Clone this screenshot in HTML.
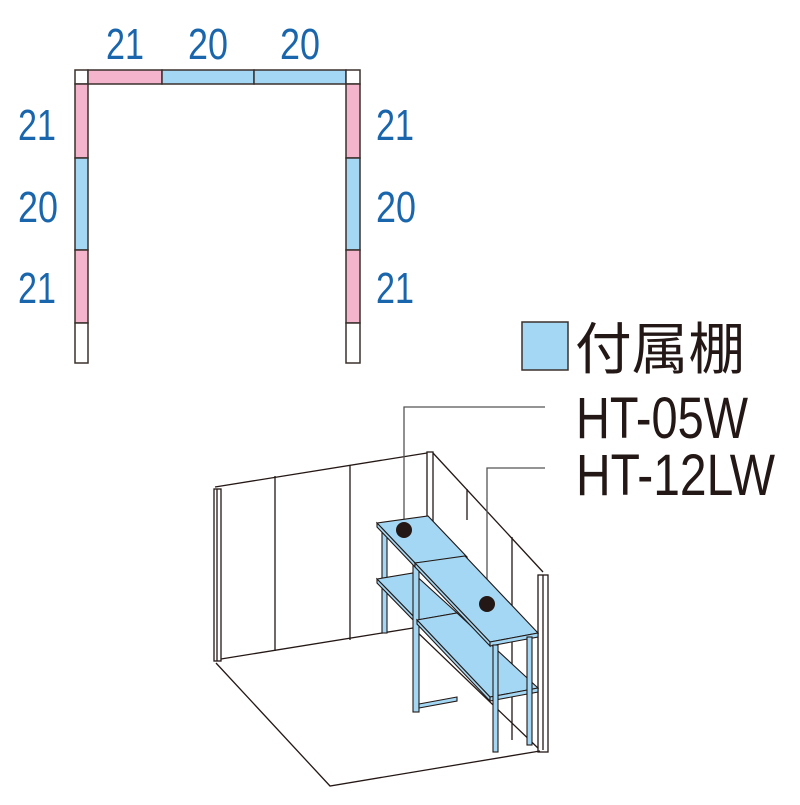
<!DOCTYPE html>
<html><head><style>html,body{margin:0;padding:0;background:#fff}</style></head><body>
<svg width="800" height="800" viewBox="0 0 800 800" xmlns="http://www.w3.org/2000/svg" font-family="Liberation Sans, sans-serif">
<g fill="#1a66ad" font-size="44">
<text x="106" y="59" textLength="38" lengthAdjust="spacingAndGlyphs">21</text>
<text x="188" y="59" textLength="40" lengthAdjust="spacingAndGlyphs">20</text>
<text x="280" y="59" textLength="40" lengthAdjust="spacingAndGlyphs">20</text>
<text x="18" y="140" textLength="38" lengthAdjust="spacingAndGlyphs">21</text>
<text x="18" y="222" textLength="40" lengthAdjust="spacingAndGlyphs">20</text>
<text x="18" y="303" textLength="38" lengthAdjust="spacingAndGlyphs">21</text>
<text x="376" y="140" textLength="38" lengthAdjust="spacingAndGlyphs">21</text>
<text x="376" y="222" textLength="40" lengthAdjust="spacingAndGlyphs">20</text>
<text x="376" y="303" textLength="38" lengthAdjust="spacingAndGlyphs">21</text>
</g>
<g stroke="#3a302c" stroke-width="1.5">
<rect x="75" y="70" width="13" height="14" fill="#fff"/>
<rect x="88" y="70" width="74" height="14" fill="#f4b4cc"/>
<rect x="162" y="70" width="92" height="14" fill="#a3d7f3"/>
<rect x="254" y="70" width="92" height="14" fill="#a3d7f3"/>
<rect x="346" y="70" width="14" height="14" fill="#fff"/>
<rect x="75" y="84" width="13" height="74" fill="#f4b4cc"/>
<rect x="75" y="158" width="13" height="92" fill="#a3d7f3"/>
<rect x="75" y="250" width="13" height="73" fill="#f4b4cc"/>
<rect x="75" y="323" width="13" height="40" fill="#fff"/>
<rect x="346" y="84" width="14" height="74" fill="#f4b4cc"/>
<rect x="346" y="158" width="14" height="92" fill="#a3d7f3"/>
<rect x="346" y="250" width="14" height="73" fill="#f4b4cc"/>
<rect x="346" y="323" width="14" height="40" fill="#fff"/>
</g>
<rect x="522" y="322" width="46" height="48" fill="#a3d7f3" stroke="#3a302c" stroke-width="1.5"/>
<text x="575" y="369" font-size="56" font-family="Liberation Sans, Noto Sans CJK JP, sans-serif" fill="#231815" textLength="170" lengthAdjust="spacingAndGlyphs">付属棚</text>
<text x="576" y="438" font-size="58" fill="#231815" textLength="172" lengthAdjust="spacingAndGlyphs">HT-05W</text>
<text x="576" y="495" font-size="58" fill="#231815" textLength="199" lengthAdjust="spacingAndGlyphs">HT-12LW</text>
<g stroke="#231815" stroke-width="1.3" fill="none">
<polyline points="215,487 427,453"/>
<polyline points="221,659 413,628"/>
<rect x="214" y="489" width="7" height="172" fill="#fff"/>
<line x1="217" y1="489" x2="217" y2="661"/>
<line x1="275" y1="476" x2="275" y2="651"/>
<line x1="350" y1="465" x2="350" y2="640"/>
<rect x="427" y="452" width="6" height="70" fill="#fff"/>
<line x1="433" y1="453" x2="543" y2="572"/>
<line x1="467" y1="489" x2="467" y2="520"/>
<line x1="512" y1="537" x2="512" y2="740"/>
<line x1="413" y1="628" x2="540" y2="750"/>
<rect x="538" y="575" width="10" height="177" fill="#fff"/>
<line x1="543" y1="575" x2="543" y2="750"/>
<polyline points="216,663 330,786 540,751"/>
<polyline points="404,530 404,407 545,407" stroke="#555"/>
<polyline points="487,604 487,468 545,468" stroke="#555"/>
</g>
<g stroke="#231815" stroke-width="1.1" fill="#a3d7f3">
<rect x="382" y="527" width="5" height="106"/>
<polygon points="377,579 413,573 457,613 417,620"/>
<polygon points="377,579 417,620 417,624 377,583"/>
<rect x="413" y="563" width="6" height="149"/>
<polygon points="419,704 457,697 457,701 419,708"/>
<polygon points="417,620 457,613 538,688 490,697"/>
<polygon points="417,620 490,697 490,701 417,624"/>
<polygon points="490,697 538,688 538,692 490,701"/>
<polygon points="377,523 428,516 467,557 415,563"/>
<polygon points="377,523 415,563 415,567 377,527"/>
<polygon points="415,563 465,556 538,633 490,642"/>
<polygon points="415,563 490,642 490,646 415,567"/>
<polygon points="490,642 538,633 538,637 490,646"/>
<rect x="493" y="645" width="5" height="107"/>
<rect x="527" y="637" width="5" height="108"/>
</g>
<circle cx="404" cy="530" r="8" fill="#231815"/>
<circle cx="487" cy="604" r="8" fill="#231815"/>
</svg>
</body></html>
